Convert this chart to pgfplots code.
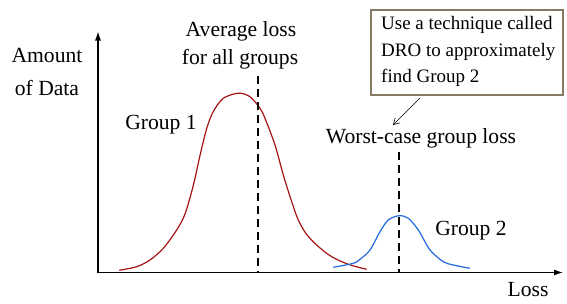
\documentclass[border=0pt]{standalone}
\usepackage{pgfplots}
\pgfplotsset{compat=1.18}
\usepackage{fontspec}
\setmainfont{Liberation Serif}
\newfontfamily\tnr{Liberation Serif}
\usetikzlibrary{arrows.meta}
\definecolor{cred}{RGB}{165,20,20}
\definecolor{cblue}{RGB}{30,105,220}
\definecolor{cbox}{RGB}{135,122,100}
\newcommand{\mainf}{\tnr\fontsize{21.6}{26}\selectfont}
\newcommand{\boxf}{\tnr\fontsize{19}{23}\selectfont}
\begin{document}
\begin{tikzpicture}
\useasboundingbox (-98pt,-30.5pt) rectangle (469pt,272.5pt);
\begin{axis}[
  scale only axis, width=465pt, height=241pt,
  xmin=98, xmax=563, ymin=0, ymax=241,
  axis lines=left,
  axis line style={line width=1.1pt, -{Latex[length=9pt,width=6pt]}},
  xtick=\empty, ytick=\empty, clip=false,
]
\addplot[cred, line width=1.2pt, smooth] coordinates {
(119.3,2.2) (136.7,5.8) (150,12.5) (163.3,24.2) (176.7,42.5) (185,58.5) (193.3,87) (200,117) (206.7,144) (213.3,161) (223.3,174.2) (238.3,179.3) (250,175.8) (260,164.2) (265,154.2) (275,127.5) (283.3,97.5) (291.7,70.8) (298.3,52.5) (306.7,38) (318.3,26) (331.7,15.8) (348.3,8.2) (366.7,3.2)};
\addplot[cblue, line width=1.2pt, smooth] coordinates {
(333.3,5.2) (353.3,9.2) (360,13.2) (370,22.5) (380,40.8) (388.3,52.5) (399,56.8) (408.3,54.2) (418.3,42.5) (430,22.5) (443.3,10.8) (453.3,7.5) (470,4.2)};
\addplot[black, line width=1.4pt, dash pattern=on 8pt off 5pt] coordinates {(258,196.5) (258,0)};
\addplot[black, line width=1.4pt, dash pattern=on 8pt off 5pt] coordinates {(399,120.5) (399,0)};
\node[anchor=base, inner sep=0pt, font=\mainf] at (axis cs:47,210.5) {Amount};
\node[anchor=base, inner sep=0pt, font=\mainf] at (axis cs:47,177.5) {of Data};
\node[anchor=base, inner sep=0pt, font=\mainf] at (axis cs:241,236.5) {Average loss};
\node[anchor=base, inner sep=0pt, font=\mainf] at (axis cs:240,208.5) {for all groups};
\node[anchor=base, inner sep=0pt, font=\mainf] at (axis cs:161,143.5) {Group 1};
\node[anchor=base, inner sep=0pt, font=\mainf] at (axis cs:421,129.5) {Worst-case group loss};
\node[anchor=base, inner sep=0pt, font=\mainf] at (axis cs:471,37.5) {Group 2};
\node[anchor=base, inner sep=0pt, font=\mainf] at (axis cs:528,-23.5) {Loss};
\draw[cbox, line width=1.6pt, fill=white] (axis cs:371,262.5) rectangle (axis cs:563,177.5);
\node[anchor=base west, inner sep=0pt, font=\boxf] at (axis cs:381,243.5) {Use a technique called};
\node[anchor=base west, inner sep=0pt, font=\boxf] at (axis cs:381,216.5) {DRO to approximately};
\node[anchor=base west, inner sep=0pt, font=\boxf] at (axis cs:381,190.5) {find Group 2};
\draw[black, line width=0.6pt, -{Straight Barb[length=6pt,width=7pt]}] (axis cs:420,174.5) -- (axis cs:393,147.5);
\end{axis}
\end{tikzpicture}
\end{document}
